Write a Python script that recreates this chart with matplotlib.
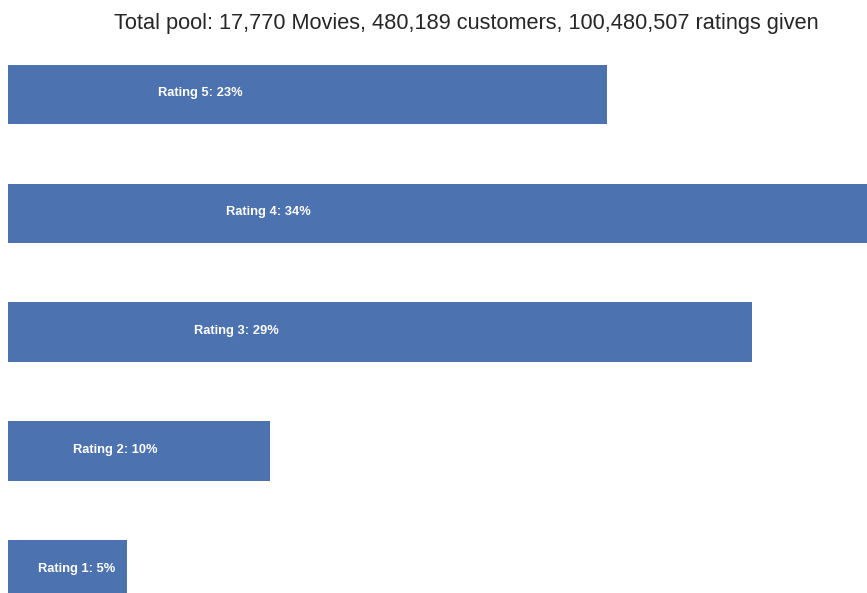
import matplotlib
matplotlib.use("Agg")
import numpy as np
from matplotlib import pyplot as plt

plt.rcParams['font.family'] = ['Liberation Sans', 'DejaVu Sans']

# rating counts over the full pool
ratings = [1, 2, 3, 4, 5]
counts = [4617990, 10132080, 28811247, 33750958, 23168232]
title = 'Total pool: 17,770 Movies, 480,189 customers, 100,480,507 ratings given'

W, H = 867, 593
fig = plt.figure(figsize=(W / 100, H / 100), dpi=100)
ax = fig.add_axes([0, 0, 1, 1])

ax.barh(range(len(ratings)), counts, height=0.5, color='#4C72B0')

total = sum(counts)
for i, r in enumerate(ratings):
    ax.text(counts[i] / 4, i - 0.017, 'Rating {}: {:.0f}%'.format(r, counts[i] * 100 / total),
            color='white', weight='bold', fontsize=9.3)

# pixel mapping: x=0 at 8px, biggest bar ~872px long; bar centres 119px apart
px_per_count = 872 / max(counts)
ax.set_xlim(-8 / px_per_count, (W - 8) / px_per_count)
ax.set_ylim(-23 / 119, 4 + 94.5 / 119)
ax.axis('off')

fig.text(466 / W, 1 - 24 / H, title, ha='center', va='center', fontsize=15.7, color='#262626')

fig.savefig('out.png', dpi=100)
